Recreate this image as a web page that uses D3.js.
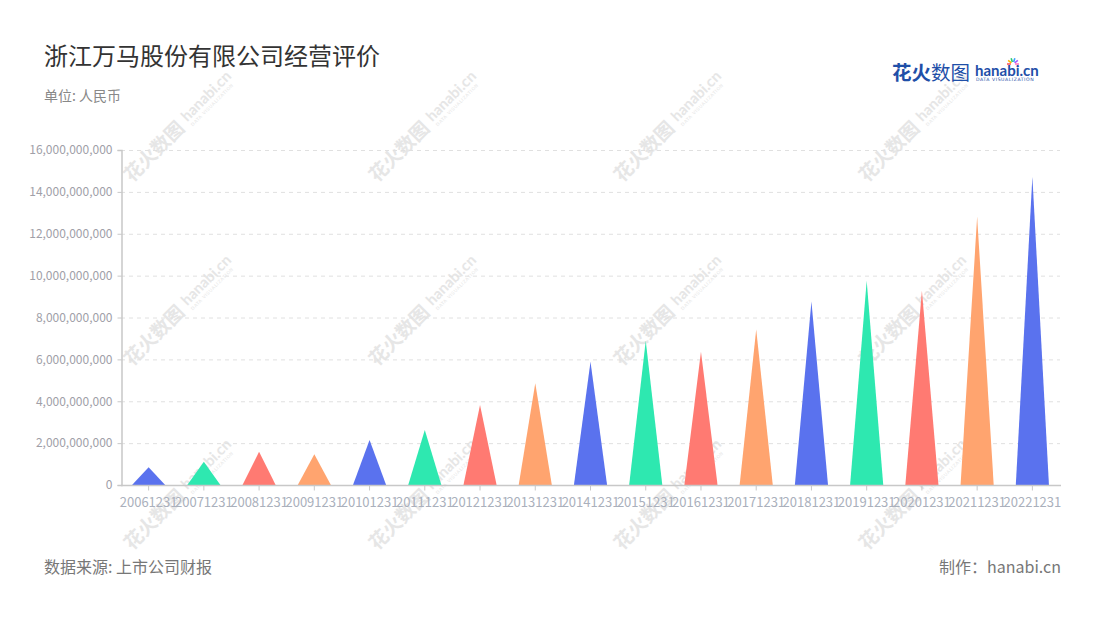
<!DOCTYPE html>
<html>
<head>
<meta charset="utf-8">
<script src="https://cdn.jsdelivr.net/npm/d3@7/dist/d3.min.js"></script>
<style>
  html, body { margin: 0; padding: 0; background: #fff; }
  svg { display: block; font-family: "Noto Sans CJK SC", "Noto Sans", sans-serif; }
</style>
</head>
<body>
<svg id="chart" width="1100" height="620"></svg>
<script>
const categories = ["20061231","20071231","20081231","20091231","20101231","20111231","20121231","20131231","20141231","20151231","20161231","20171231","20181231","20191231","20201231","20211231","20221231"];
const values = [845000000, 1110000000, 1590000000, 1470000000, 2150000000, 2630000000, 3820000000, 4860000000, 5890000000, 6890000000, 6370000000, 7430000000, 8760000000, 9760000000, 9280000000, 12810000000, 14720000000];
const yTicks = [0, 2000000000, 4000000000, 6000000000, 8000000000, 10000000000, 12000000000, 14000000000, 16000000000];
const palette = ["#5a72ee", "#2ee8b0", "#ff7a72", "#ffa46f"];
const title = "浙江万马股份有限公司经营评价";
const subtitle = "单位: 人民币";
const source = "数据来源: 上市公司财报";
const maker = "制作：hanabi.cn";

const svg = d3.select("#chart");
const m = {left: 121, right: 1060, top: 150, bottom: 485};

// watermarks
const wm = svg.append("g");
const wmCols = [132, 377, 622, 867];
const wmRows = [183, 367, 551];
const wmColor = "#e6e6e6";
wmRows.forEach(r => wmCols.forEach(c => {
  const g = wm.append("g").attr("transform", `translate(${c},${r}) rotate(-45)`);
  g.append("text").attr("x", 0).attr("y", 0).attr("font-size", 19).attr("font-weight", 700).attr("fill", wmColor).text("花火数图");
  g.append("text").attr("x", 82).attr("y", -4).attr("font-size", 15).attr("font-weight", 700).attr("fill", wmColor).attr("font-family", "Lato, sans-serif").text("hanabi.cn");
  g.append("text").attr("x", 83).attr("y", 3).attr("font-size", 4.5).attr("fill", wmColor).attr("letter-spacing", 0.6).attr("font-family", "DejaVu Sans, sans-serif").text("DATA VISUALIZATION");
}));

// title
svg.append("text").attr("x", 44).attr("y", 65).attr("font-size", 24).attr("fill", "#333").text(title);
svg.append("text").attr("x", 44).attr("y", 101).attr("font-size", 14).attr("fill", "#888").text(subtitle);

// logo
const logo = svg.append("g");
logo.append("text").attr("x", 892).attr("y", 80).attr("font-size", 19.5).attr("font-weight", 700).attr("fill", "#1f4fa8").text("花火");
logo.append("text").attr("x", 931).attr("y", 80).attr("font-size", 19.5).attr("font-weight", 400).attr("fill", "#1f4fa8").text("数图");
logo.append("text").attr("x", 975).attr("y", 76).attr("font-size", 15).attr("font-weight", 700).attr("fill", "#1f4fa8").attr("font-family", "Lato, sans-serif").text("hanabi.cn");
logo.append("text").attr("x", 976).attr("y", 81).attr("font-size", 4.6).attr("fill", "#1f4fa8").attr("letter-spacing", 0.55).attr("font-family", "DejaVu Sans, sans-serif").text("DATA VISUALIZATION");
const sparkColors = ["#ff5a5a", "#ffb300", "#2ecc71", "#3aa0ff", "#a05aff", "#ff7ac0"];
sparkColors.forEach((c, i) => {
  const a = -Math.PI + i * Math.PI / 5;
  logo.append("line").attr("x1", 1013 + Math.cos(a) * 2).attr("y1", 64 + Math.sin(a) * 2)
    .attr("x2", 1013 + Math.cos(a) * 6).attr("y2", 64 + Math.sin(a) * 6)
    .attr("stroke", c).attr("stroke-width", 1.6);
});

// scales
const x = d3.scaleBand().domain(categories).range([m.left, m.right]).paddingInner(0).paddingOuter(0);
const y = d3.scaleLinear().domain([0, 16000000000]).range([m.bottom, m.top]);

// grid
svg.append("g").selectAll("line").data(yTicks.filter(d => d > 0)).join("line")
  .attr("x1", m.left).attr("x2", m.right)
  .attr("y1", d => y(d) + 0.5).attr("y2", d => y(d) + 0.5)
  .attr("stroke", "#e0e0e0").attr("stroke-dasharray", "4,4");

// y axis
const yAxis = svg.append("g").attr("transform", `translate(${m.left + 0.5},0)`)
  .call(d3.axisLeft(y).tickValues(yTicks).tickFormat(d3.format(",")).tickSize(4).tickPadding(5));
yAxis.select(".domain").attr("stroke", "#c8c8c8").attr("stroke-width", 1.5);
yAxis.selectAll(".tick line").attr("stroke", "#c8c8c8");
yAxis.selectAll(".tick text").attr("fill", "#a0a0a8").attr("font-size", 12).attr("font-family", "Noto Sans CJK SC, sans-serif");

// bars (triangles)
const bw = x.bandwidth() * 0.6;
svg.append("g").selectAll("path").data(categories).join("path")
  .attr("d", (c, i) => {
    const cx = x(c) + x.bandwidth() / 2;
    const top = y(values[i]);
    return `M${cx - bw / 2},${y(0)} L${cx},${top} L${cx + bw / 2},${y(0)} Z`;
  })
  .attr("fill", (c, i) => palette[i % palette.length]);

// x axis
const xAxis = svg.append("g").attr("transform", `translate(0,${m.bottom + 0.5})`)
  .call(d3.axisBottom(x).tickSize(5).tickPadding(7));
xAxis.select(".domain").attr("stroke", "#c8c8c8").attr("stroke-width", 1.5).attr("d", `M${m.left},0H${m.right + 1}`);
xAxis.selectAll(".tick line").attr("stroke", "#c8c8c8");
xAxis.selectAll(".tick text").attr("fill", "#aab0bc").attr("font-size", 13).attr("font-family", "Noto Sans CJK SC, sans-serif");

// footer
svg.append("text").attr("x", 44).attr("y", 573).attr("font-size", 16).attr("fill", "#777").text(source);
svg.append("text").attr("x", 1061).attr("y", 573).attr("text-anchor", "end").attr("font-size", 16).attr("fill", "#777").text(maker);
</script>
</body>
</html>
